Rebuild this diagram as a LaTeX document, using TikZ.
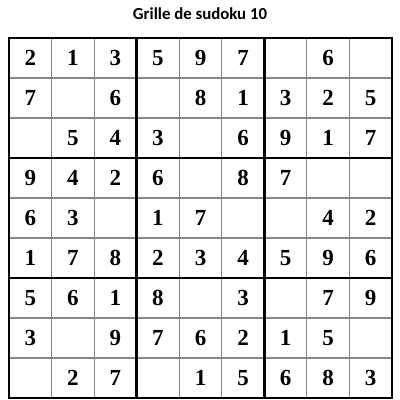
\documentclass[tikz,border=0pt]{standalone}
\usepackage{fontspec}
\setmainfont{Liberation Serif}
\newfontfamily\titlefont{Carlito}
\newfontfamily\digitfont{Liberation Serif}

\begin{document}
\begin{tikzpicture}[x=1pt, y=-1pt]

  \definecolor{my_gray}{RGB}{135,135,135}

  \tikzstyle{thin_line} = [draw=my_gray, line width=1.1pt]
  \tikzstyle{thick_line} = [draw=black, line width=2.6pt, line cap=rect]
  \tikzstyle{digit} = [font=\digitfont\bfseries\fontsize{23}{23}\selectfont, inner sep=0pt]

  \useasboundingbox (0,0) rectangle (400,400);

  \node [font=\titlefont\bfseries\fontsize{16.8}{16.8}\selectfont] (titre) at (200,14) {Grille de sudoku 10};

  % grille
  \foreach \i in {1,2,4,5,7,8} {
    \path [thin_line] ({9+\i*42.556},38) -- ({9+\i*42.556},398);
    \path [thin_line] (9,{38+\i*40}) -- (392,{38+\i*40});
  }
  \foreach \i in {0,3,6,9} {
    \path [thick_line] ({9+\i*42.556},38) -- ({9+\i*42.556},398);
    \path [thick_line] (9,{38+\i*40}) -- (392,{38+\i*40});
  }

  % chiffres (0 = case vide)
  \foreach \ligne [count=\r] in {
      {2,1,3,5,9,7,0,6,0},
      {7,0,6,0,8,1,3,2,5},
      {0,5,4,3,0,6,9,1,7},
      {9,4,2,6,0,8,7,0,0},
      {6,3,0,1,7,0,0,4,2},
      {1,7,8,2,3,4,5,9,6},
      {5,6,1,8,0,3,0,7,9},
      {3,0,9,7,6,2,1,5,0},
      {0,2,7,0,1,5,6,8,3}} {
    \foreach \d [count=\c] in \ligne {
      \ifnum\d>0
        \node [digit] (case\r\c) at ({9+(\c-0.5)*42.556},{38+(\r-0.5)*40}) {\d};
      \fi
    }
  }

\end{tikzpicture}
\end{document}
